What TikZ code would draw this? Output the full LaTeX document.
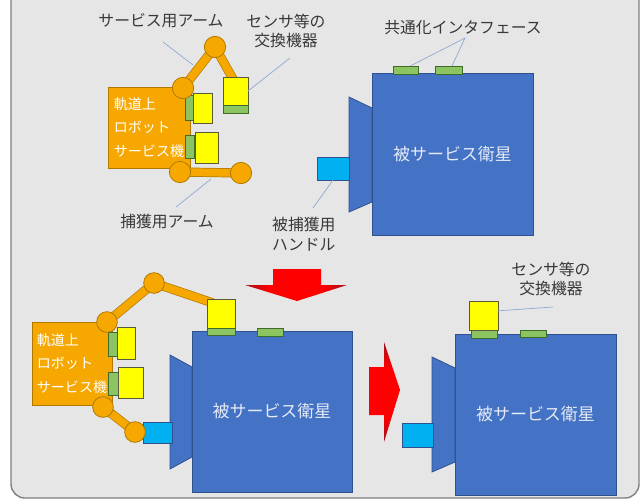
\documentclass[tikz,border=0pt]{standalone}
\usepackage{fontspec}
\setmainfont{Noto Sans CJK JP}
\usetikzlibrary{calc,positioning,shapes.geometric}

\definecolor{panelfill}{HTML}{E7E6E6}
\definecolor{panelline}{HTML}{7F7F7F}
\definecolor{satblue}{HTML}{4472C4}
\definecolor{satline}{HTML}{2F528F}
\definecolor{sattext}{HTML}{E4EAF6}
\definecolor{handlecyan}{HTML}{00B0F0}
\definecolor{padgreen}{HTML}{8DC462}
\definecolor{padline}{HTML}{3F6B2A}
\definecolor{toolyellow}{HTML}{FFFF00}
\definecolor{toolline}{HTML}{5A5A3A}
\definecolor{robotorange}{HTML}{F7A800}
\definecolor{robotline}{HTML}{B07A00}
\definecolor{leadercol}{HTML}{8FA8D6}
\definecolor{labeltext}{HTML}{383838}
\definecolor{arrowred}{HTML}{FF0000}
\definecolor{arrowdark}{HTML}{A0101A}

% red in the middle, dark towards both tips
\pgfdeclarehorizontalshading{redwing}{100bp}{color(0bp)=(arrowdark); color(25bp)=(arrowdark);
  color(37bp)=(arrowred); color(63bp)=(arrowred); color(75bp)=(arrowdark); color(100bp)=(arrowdark)}
\pgfdeclareverticalshading{redhead}{100bp}{color(0bp)=(arrowdark); color(25bp)=(arrowdark);
  color(38bp)=(arrowred); color(62bp)=(arrowred); color(75bp)=(arrowdark); color(100bp)=(arrowdark)}

\tikzset{
  block/.style={rectangle, inner sep=0pt, outer sep=0pt},
  satbody/.style={block, draw=satline, fill=satblue, line width=0.7pt,
    text=sattext, font=\fontsize{14.5}{17}\selectfont},
  cone/.style={draw=satline, fill=satblue, line width=0.7pt},
  handle/.style={block, draw=satline, fill=handlecyan, line width=0.7pt},
  pad/.style={block, draw=padline, fill=padgreen, line width=0.6pt},
  tool/.style={block, draw=toolline, fill=toolyellow, line width=0.7pt},
  robot/.style={block, draw=robotline, fill=robotorange, line width=0.7pt,
    text=white, align=left, font=\fontsize{12}{20}\selectfont},
  joint/.style={circle, draw=robotline, fill=robotorange, line width=0.7pt,
    minimum size=0.64cm, inner sep=0pt},
  link/.style={draw=robotline, line width=0.6pt, double=robotorange, double distance=6.6pt},
  leader/.style={draw=leadercol, line width=0.6pt},
  label/.style={text=labeltext, inner sep=0pt, font=\fontsize{13.5}{17}\selectfont},
}

\begin{document}
\begin{tikzpicture}[x=0.03cm, y=-0.03cm]
  \clip (0,0) rectangle (641,499);
  \fill[white] (0,0) rectangle (641,499);
  \draw[panelline, fill=panelfill, line width=1.2pt, rounded corners=0.42cm] (11,-40) rectangle (639,498);

  % --- upper row: robot before capture
  \draw[cone] (349,97) -- (372,108) -- (372,202) -- (349,212) -- cycle;
  \node[handle, minimum width=0.96cm, minimum height=0.69cm] (handle1) at (333,168.5) {};
  \node[satbody, minimum width=4.83cm, minimum height=4.86cm] (sat1) at (452.5,154) {被サービス衛星};
  \node[pad, minimum width=0.75cm, minimum height=0.24cm] (pad1) at (405.5,70) {};
  \node[pad, minimum width=0.81cm, minimum height=0.24cm] (pad2) at (448.5,70) {};

  \node[robot, minimum width=2.46cm, minimum height=2.43cm] (robot1) at (149,127.5) {軌道上\\ロボット\\サービス機};
  \node[pad, minimum width=0.24cm, minimum height=0.75cm] (rpad1) at (189,107.5) {};
  \node[pad, minimum width=0.27cm, minimum height=0.69cm] (rpad2) at (189.5,146.5) {};
  \node[tool, minimum width=0.57cm, minimum height=0.9cm] (spare1) at (202.5,108) {};
  \node[tool, minimum width=0.69cm, minimum height=0.93cm] (spare2) at (206.5,147.5) {};

  \coordinate (J1) at (183,88);
  \coordinate (J2) at (215,47);
  \coordinate (J3) at (180,172);
  \coordinate (J4) at (241,173);
  \coordinate (grip1) at (233,79);
  \draw[link] (J1) -- (J2) -- (grip1);
  \draw[link] (J3) -- (J4);
  \node[tool, minimum width=0.75cm, minimum height=0.84cm] (tool1) at (235.5,91) {};
  \node[pad, minimum width=0.75cm, minimum height=0.24cm] (toolpad1) at (235.5,109) {};
  \foreach \j in {J1,J2,J3,J4}
    \node[joint] at (\j) {};

  % labels of the upper row
  \node[label] (lblservice) at (161,21) {サービス用アーム};
  \node[label, align=center] (lbltool) at (286,31) {センサ等の\\交換機器};
  \node[label] (lblpad) at (463,28) {共通化インタフェース};
  \node[label] (lblcapture) at (167,222) {捕獲用アーム};
  \node[label, align=left, anchor=west] (lblhandle) at (272,234.5) {被捕獲用\\ハンドル};

  \coordinate (svcfrom) at (163,42);
  \coordinate (svcto) at (193,65);
  \coordinate (toolfrom) at (290,58);
  \coordinate (padfrom) at (465,38);
  \coordinate (capfrom) at (176,207);
  \coordinate (capto) at (211,179);
  \coordinate (handlefrom) at (313,208);
  \draw[leader] (svcfrom) -- (svcto);
  \draw[leader] (toolfrom) -- (tool1.east);
  \draw[leader] (padfrom) -- ([xshift=4]pad1.north);
  \draw[leader] (padfrom) -- ([xshift=3]pad2.north);
  \draw[leader] (capfrom) -- (capto);
  \draw[leader] (handlefrom) -- (handle1.south);

  % --- arrows between the steps
  \shade[shading=redwing]
    (273,269) -- (321,269) -- (321,285) -- (347,285) -- (297,301) -- (245,285) -- (273,285) -- cycle;
  \shade[shading=redhead]
    (369,367) -- (384,367) -- (384,342) -- (400,390) -- (384,442) -- (384,415) -- (369,415) -- cycle;

  % --- lower left: captured satellite under service
  \draw[cone] (170,355) -- (192,367) -- (192,457) -- (170,469) -- cycle;
  \node[handle, minimum width=0.87cm, minimum height=0.63cm] (handle2) at (157.5,432.5) {};
  \node[satbody, minimum width=4.8cm, minimum height=4.83cm] (sat2) at (272,411.5) {被サービス衛星};
  \node[pad, minimum width=0.78cm, minimum height=0.24cm] (pad3) at (270,332) {};

  \node[robot, minimum width=2.4cm, minimum height=2.49cm] (robot2) at (72,363.5) {軌道上\\ロボット\\サービス機};
  \node[pad, minimum width=0.27cm, minimum height=0.72cm] (rpad3) at (112.5,344) {};
  \node[pad, minimum width=0.3cm, minimum height=0.69cm] (rpad4) at (113,383.5) {};
  \node[tool, minimum width=0.54cm, minimum height=0.96cm] (spare3) at (126,343) {};
  \node[tool, minimum width=0.75cm, minimum height=0.93cm] (spare4) at (130.5,382.5) {};

  \coordinate (J5) at (107,322);
  \coordinate (J6) at (154,283);
  \coordinate (J7) at (103,407);
  \coordinate (J8) at (135,432);
  \coordinate (grip2) at (213,303);
  \draw[link] (J5) -- (J6) -- (grip2);
  \draw[link] (J7) -- (J8) -- (handle2.west);
  \node[tool, minimum width=0.84cm, minimum height=0.87cm] (tool2) at (221,313.5) {};
  \node[pad, minimum width=0.84cm, minimum height=0.21cm] (toolpad2) at (221,331.5) {};
  \foreach \j in {J5,J6,J7,J8}
    \node[joint, minimum size=0.62cm] at (\j) {};

  % --- lower right: satellite after exchange
  \draw[cone] (432,357) -- (455,368) -- (455,462) -- (432,472) -- cycle;
  \node[handle, minimum width=0.93cm, minimum height=0.72cm] (handle3) at (417.5,435) {};
  \node[satbody, minimum width=4.83cm, minimum height=4.83cm] (sat3) at (535.5,414.5) {被サービス衛星};
  \node[pad, minimum width=0.78cm, minimum height=0.24cm] (toolpad3) at (484,334) {};
  \node[pad, minimum width=0.78cm, minimum height=0.21cm] (pad4) at (533,333.5) {};
  \node[tool, minimum width=0.87cm, minimum height=0.87cm] (tool3) at (483.5,315.5) {};

  \node[label, align=center] (lbltool3) at (551,279) {センサ等の\\交換機器};
  \coordinate (tool3from) at (553,307);
  \draw[leader] (tool3from) -- ([yshift=4]tool3.east);
\end{tikzpicture}
\end{document}
